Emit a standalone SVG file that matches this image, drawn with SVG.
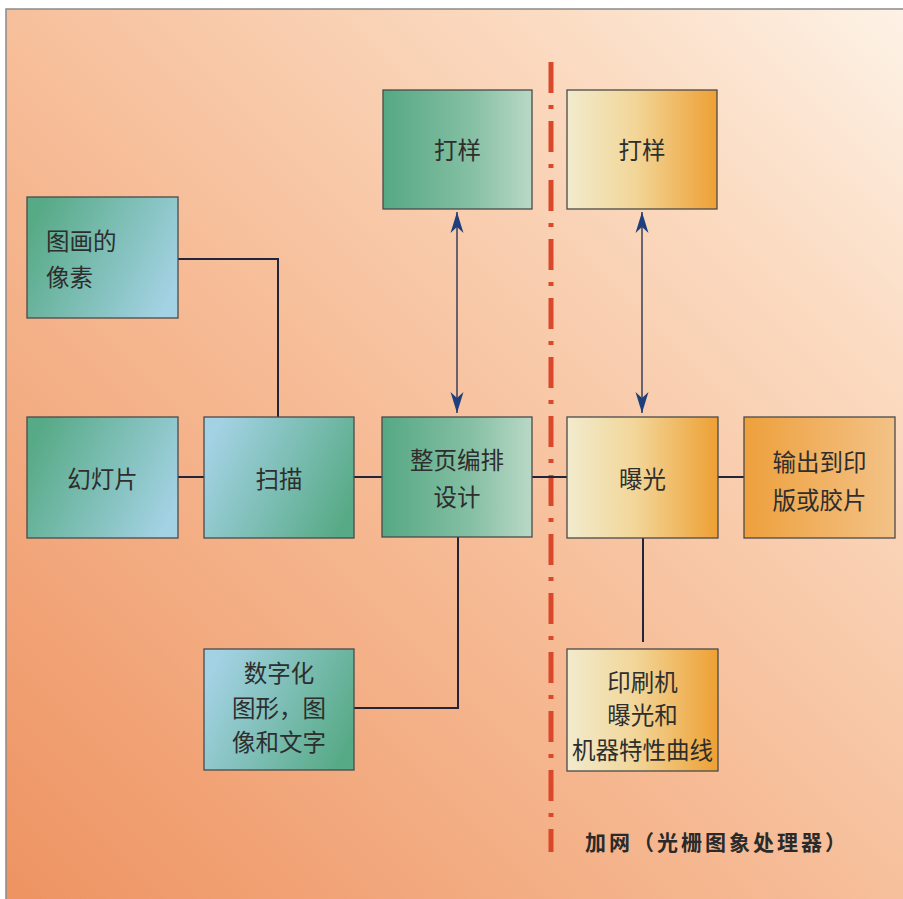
<svg xmlns="http://www.w3.org/2000/svg" width="903" height="899" viewBox="0 0 903 899">
<defs>
<linearGradient id="bg" x1="0" y1="1" x2="1" y2="0">
<stop offset="0" stop-color="#ee9362"/>
<stop offset="0.45" stop-color="#f6bb95"/>
<stop offset="0.8" stop-color="#fbdcc3"/>
<stop offset="1" stop-color="#fdf2e6"/>
</linearGradient>
<linearGradient id="gGreen" x1="0" y1="0" x2="1" y2="0">
<stop offset="0" stop-color="#55a884"/>
<stop offset="0.6" stop-color="#86c0a4"/>
<stop offset="1" stop-color="#b9d8c6"/>
</linearGradient>
<linearGradient id="gGB" x1="0" y1="0.3" x2="1" y2="0.7">
<stop offset="0" stop-color="#57aa86"/>
<stop offset="1" stop-color="#a3d2e4"/>
</linearGradient>
<linearGradient id="gBG" x1="0" y1="0.3" x2="1" y2="0.7">
<stop offset="0" stop-color="#a3d2e4"/>
<stop offset="1" stop-color="#57aa86"/>
</linearGradient>
<linearGradient id="gOr" x1="0" y1="0" x2="1" y2="0">
<stop offset="0" stop-color="#f1ebcd"/>
<stop offset="0.45" stop-color="#f2d699"/>
<stop offset="1" stop-color="#eea034"/>
</linearGradient>
<linearGradient id="gOut" x1="0" y1="0" x2="1" y2="0">
<stop offset="0" stop-color="#eea03c"/>
<stop offset="1" stop-color="#f3c287"/>
</linearGradient>
<marker id="ah" viewBox="-22 -8 24 16" markerWidth="24" markerHeight="16" refX="0" refY="0" orient="auto-start-reverse" markerUnits="userSpaceOnUse">
<path d="M0,0 L-21,-6.5 L-15,0 L-21,6.5 Z" fill="#1e3f7c"/>
</marker>
</defs>
<style>
.box{stroke:#4a4a4a;stroke-width:1.3}
.t{font-family:"Noto Sans CJK SC","Noto Sans",sans-serif;font-size:23.5px;fill:#2e2e2e;text-anchor:middle}
.tl{text-anchor:start}
.c{fill:none;stroke:#23263a;stroke-width:2}
.a{fill:none;stroke:#3a3e5c;stroke-width:1.5}
</style>
<rect x="0" y="0" width="903" height="899" fill="#ffffff"/>
<rect x="6" y="9" width="897" height="890" fill="url(#bg)"/>
<path d="M6,899 L6,9 L903,9" fill="none" stroke="#8a8a8a" stroke-width="1.5"/>

<line x1="551" y1="62" x2="551" y2="852" stroke="#d9482a" stroke-width="5" stroke-dasharray="31 12 4 12"/>

<g id="connectors">
<path class="c" d="M178,259 H278 V417"/>
<line class="c" x1="178" y1="477" x2="204" y2="477"/>
<line class="c" x1="354" y1="477" x2="382" y2="477"/>
<line class="c" x1="532" y1="477" x2="567" y2="477"/>
<line class="c" x1="718" y1="477" x2="744" y2="477"/>
<path class="c" d="M354,708 H458 V537"/>
<line class="c" x1="643" y1="538" x2="643" y2="642"/>
<line class="a" x1="457" y1="212" x2="457" y2="413" marker-start="url(#ah)" marker-end="url(#ah)"/>
<line class="a" x1="642" y1="212" x2="642" y2="413" marker-start="url(#ah)" marker-end="url(#ah)"/>
</g>

<g id="proof-left">
<rect class="box" x="383" y="90" width="149" height="119" fill="url(#gGreen)"/>
<text class="t" x="457.5" y="159">打样</text>
</g>
<g id="proof-right">
<rect class="box" x="567" y="90" width="150" height="119" fill="url(#gOr)"/>
<text class="t" x="642" y="159">打样</text>
</g>
<g id="pixels">
<rect class="box" x="27" y="197" width="151" height="121" fill="url(#gGB)"/>
<text class="t tl" x="46" y="250">图画的</text>
<text class="t tl" x="46" y="286">像素</text>
</g>
<g id="slides">
<rect class="box" x="27" y="417" width="151" height="121" fill="url(#gGB)"/>
<text class="t" x="102.5" y="488">幻灯片</text>
</g>
<g id="scan">
<rect class="box" x="204" y="417" width="150" height="121" fill="url(#gBG)"/>
<text class="t" x="279" y="488">扫描</text>
</g>
<g id="layout">
<rect class="box" x="382" y="417" width="150" height="120" fill="url(#gGreen)"/>
<text class="t" x="457" y="469">整页编排</text>
<text class="t" x="457" y="506">设计</text>
</g>
<g id="expose">
<rect class="box" x="567" y="417" width="151" height="121" fill="url(#gOr)"/>
<text class="t" x="642.5" y="488">曝光</text>
</g>
<g id="output">
<rect class="box" x="744" y="417" width="151" height="121" fill="url(#gOut)"/>
<text class="t" x="819.5" y="471">输出到印</text>
<text class="t" x="819.5" y="509">版或胶片</text>
</g>
<g id="press">
<rect class="box" x="567" y="649" width="151" height="122" fill="url(#gOr)"/>
<text class="t" x="642.5" y="691">印刷机</text>
<text class="t" x="642.5" y="724">曝光和</text>
<text class="t" x="642.5" y="759">机器特性曲线</text>
</g>
<g id="digital">
<rect class="box" x="204" y="649" width="150" height="121" fill="url(#gBG)"/>
<text class="t" x="279" y="682">数字化</text>
<text class="t" x="279" y="717">图形，图</text>
<text class="t" x="279" y="751">像和文字</text>
</g>
<text x="585" y="850" font-family="'Noto Sans CJK SC','Noto Sans',sans-serif" font-size="21" font-weight="bold" fill="#2a2a2a" letter-spacing="3">加网（光栅图象处理器）</text>
</svg>
